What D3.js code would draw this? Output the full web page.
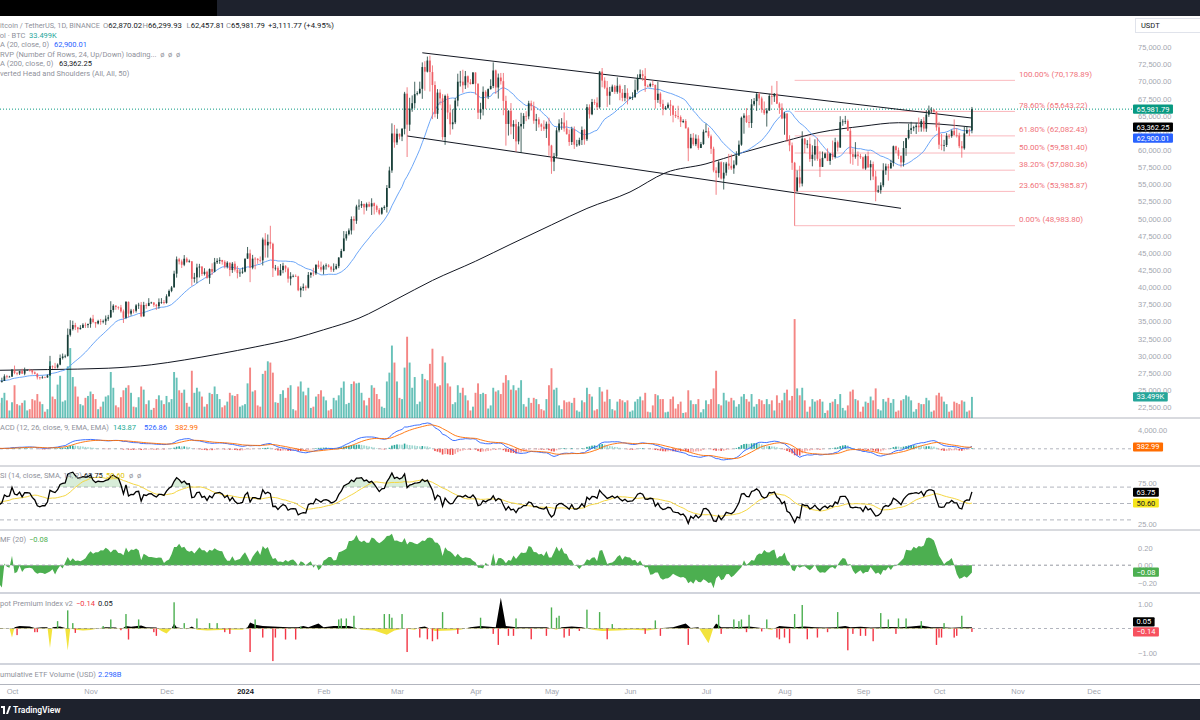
<!DOCTYPE html>
<html><head><meta charset="utf-8">
<script src="https://cdn.jsdelivr.net/npm/d3@7"></script>
<style>
html,body{margin:0;padding:0;background:#fff;}
svg{display:block;font-family:Roboto,"Liberation Sans",sans-serif;}
text{white-space:pre;}
</style></head><body>
<svg id="c" width="1200" height="720"></svg>
<script>
// ---------------- DATA (prices in thousands of USDT, volume in thousands of BTC) ----------------
const startDate = "2023-09-26";
const priorCloses = [26.24,25.91,25.90,25.84,25.16,25.85,26.22,26.53,26.60,26.57,26.53,26.76,27.21,27.13,26.57,26.58,26.58,26.25,26.30];
const closes = [
26.22,26.35,27.02,26.91,26.97,
27.99,27.50,27.43,27.78,27.41,27.93,27.95,27.92,27.59,27.39,26.87,26.76,26.86,26.85,27.15,28.50,28.40,28.32,28.72,29.68,29.91,29.99,33.07,33.90,34.50,34.15,33.89,34.09,34.53,34.49,34.64,
35.42,34.94,34.72,35.08,35.04,35.04,35.42,35.62,36.69,37.31,37.13,37.06,36.49,35.55,37.88,36.16,36.60,36.57,37.36,37.45,35.76,37.41,37.29,37.72,37.78,37.45,37.24,37.83,37.85,37.71,
38.69,39.47,39.98,41.99,44.08,43.77,43.29,44.17,43.71,43.79,41.24,41.45,42.89,43.02,41.94,42.26,41.37,42.66,42.27,43.65,43.86,43.99,43.72,43.01,43.58,42.52,43.44,42.58,42.07,42.14,42.28,
44.18,44.95,42.85,44.18,44.16,43.97,43.93,46.97,46.11,46.63,46.34,42.78,42.84,41.73,42.51,43.14,42.74,41.26,41.62,41.66,41.58,39.57,39.88,40.08,39.94,41.81,42.12,42.03,43.30,42.94,42.58,
43.08,43.19,42.99,42.58,42.70,43.09,44.34,45.29,47.13,47.75,48.29,49.96,49.70,51.79,51.91,52.16,51.66,52.12,51.78,52.26,51.85,51.30,50.73,51.57,51.73,54.48,57.04,62.43,61.13,
62.39,61.98,63.11,68.24,63.72,66.07,66.85,68.17,68.31,68.95,72.12,71.45,73.07,71.39,69.50,65.30,68.39,67.55,61.91,67.91,65.49,63.78,64.06,67.23,69.98,69.99,69.46,70.78,69.87,69.65,71.33,
69.70,65.46,65.98,68.51,67.84,68.90,69.36,71.62,69.14,70.59,70.06,67.19,63.82,65.74,63.43,63.81,61.28,63.47,63.82,64.99,64.93,66.84,66.41,64.29,64.50,63.76,63.42,63.11,63.84,60.67,
58.32,59.12,62.89,63.89,64.03,63.16,62.33,61.19,63.07,60.80,60.82,61.47,62.95,61.58,66.27,65.23,67.02,66.92,66.27,71.45,70.14,69.12,67.93,68.53,69.28,68.51,69.39,68.37,67.63,68.35,67.49,
67.71,67.75,68.80,70.55,71.08,70.79,69.36,69.31,69.65,69.51,67.32,68.24,66.75,66.01,66.19,66.64,66.49,65.15,64.96,64.83,64.10,64.25,63.18,60.28,61.81,60.87,61.68,60.32,60.89,62.68,
62.77,62.02,60.20,57.04,56.66,58.23,55.86,56.71,58.04,57.72,57.34,57.89,59.20,60.80,64.72,65.04,64.09,63.96,66.68,67.15,68.17,67.54,65.93,65.37,65.78,67.90,67.81,68.24,66.78,66.19,64.62,
65.35,61.50,60.70,58.16,54.02,56.03,55.13,61.69,60.84,60.92,58.71,59.35,60.60,58.74,57.56,58.87,59.49,58.43,59.48,59.01,61.16,60.38,64.09,64.18,64.25,62.83,59.42,59.03,59.37,59.12,58.97,
57.33,59.13,57.49,57.97,56.16,53.96,54.16,54.88,57.05,57.64,57.34,58.13,60.57,60.00,59.18,58.21,60.31,61.76,62.95,63.20,63.35,63.58,63.34,64.26,63.15,65.18,65.80,65.88,65.60,63.33,
60.80,60.65,60.75,62.08,62.06,62.82,62.22,62.13,60.58,60.27,62.45,62.93,62.87002,65.98179];
const highs = [
26.39,26.82,27.31,27.23,27.09,
28.07,28.58,27.67,27.83,28.12,28.29,28.02,28.10,27.99,27.73,27.48,26.94,27.10,26.97,27.29,30.00,28.61,28.98,28.90,30.20,30.34,30.20,33.99,35.20,35.13,34.82,34.24,34.48,34.76,34.85,34.72,
35.58,35.98,34.95,35.26,35.38,35.29,35.89,35.98,37.97,37.53,37.41,37.23,37.43,36.76,37.98,37.93,36.85,36.84,37.55,37.74,37.86,37.88,37.66,38.41,37.89,37.83,37.58,38.38,38.42,38.15,
38.98,39.68,40.19,42.42,44.49,44.29,44.05,44.70,44.37,44.04,43.80,42.10,43.44,43.42,43.09,42.78,42.43,42.75,43.50,44.28,44.24,44.37,43.80,43.95,43.80,43.62,43.68,43.79,43.12,42.61,42.90,
44.18,45.88,45.50,44.73,44.40,44.25,44.50,47.25,47.90,47.70,48.97,46.50,43.26,43.08,43.40,43.58,43.20,42.93,42.20,41.87,41.88,41.68,40.13,40.55,40.28,42.23,42.20,42.84,43.31,43.88,43.75,
43.29,43.48,43.38,43.12,43.49,43.42,44.39,45.61,48.20,48.17,48.59,50.33,50.37,52.04,52.82,52.57,52.20,52.36,52.48,52.98,52.37,52.05,51.55,51.70,51.95,54.91,57.59,63.91,63.68,
63.13,62.43,63.23,68.50,69.17,67.64,67.98,69.98,68.59,69.99,72.80,72.97,73.65,73.78,72.36,70.04,68.90,68.87,68.16,68.10,68.24,66.65,65.97,67.62,71.15,71.56,71.73,71.55,70.90,70.36,71.37,
71.33,69.70,66.91,69.29,68.73,69.00,70.33,72.80,71.75,71.17,71.26,71.26,67.93,65.84,66.87,64.37,64.48,64.12,65.45,65.39,65.67,67.20,67.23,67.07,65.29,64.80,63.92,64.36,64.17,64.73,
60.78,59.60,63.32,64.50,64.67,65.50,64.34,62.99,63.42,63.46,61.50,61.82,63.45,63.10,66.70,66.67,67.47,67.40,67.70,71.52,71.98,70.62,70.09,69.22,69.56,69.51,70.61,69.59,68.92,69.50,69.02,
67.86,68.44,70.29,71.06,71.76,71.65,71.96,69.56,69.85,70.15,69.56,70.00,68.45,67.35,66.45,66.95,67.30,66.10,65.73,66.48,65.07,64.50,64.52,63.37,62.37,62.48,62.29,62.18,61.20,63.01,
63.86,63.29,62.27,60.50,57.50,58.48,58.37,58.24,58.29,59.46,59.40,58.51,59.84,61.40,64.90,65.38,66.13,65.12,67.45,67.60,68.37,68.47,67.81,67.10,66.13,68.22,69.40,68.32,70.08,66.98,66.83,
65.59,65.00,62.18,61.11,58.29,57.04,57.72,62.75,61.75,61.47,61.86,60.70,61.58,61.80,59.85,59.80,59.65,60.26,59.60,61.40,61.80,61.40,64.95,64.50,65.00,64.48,63.20,60.25,61.17,59.82,59.46,
59.08,59.40,59.81,58.52,58.33,56.99,54.85,55.30,58.09,58.04,57.99,58.60,60.67,60.65,60.38,59.21,61.32,61.79,63.85,64.13,63.56,64.00,64.75,64.53,64.82,65.84,66.50,66.26,66.00,65.62,
64.13,62.39,61.50,62.49,62.37,63.00,64.48,63.20,62.54,61.32,63.42,63.48,63.12,66.29993];
const lows = [
26.11,26.09,26.34,26.67,26.88,
26.95,27.32,27.16,27.21,27.35,27.17,27.86,27.71,27.29,27.30,26.56,26.54,26.68,26.82,26.81,27.11,28.10,28.13,28.17,28.63,29.46,29.67,29.88,32.82,33.69,33.76,33.39,33.85,34.05,34.07,34.08,
34.10,34.76,34.10,34.58,34.53,34.74,34.51,35.11,35.53,36.33,36.72,36.74,36.30,34.80,35.36,35.61,35.87,36.20,36.32,36.84,35.63,35.73,36.88,37.25,37.61,37.15,36.71,36.86,37.59,37.50,
37.62,38.65,39.28,39.98,41.41,43.34,42.82,43.08,43.58,43.59,40.22,40.68,40.60,41.43,41.66,41.72,41.25,40.50,41.79,42.18,43.40,43.42,43.31,42.75,42.75,41.62,42.10,42.29,41.30,41.52,41.97,
42.18,44.15,40.75,42.63,42.62,43.42,43.61,43.18,44.33,44.33,45.61,41.50,42.44,41.72,41.72,42.05,42.20,40.68,40.28,41.45,41.50,39.43,38.56,39.49,39.53,39.83,41.39,41.62,41.80,42.68,42.28,
41.88,42.58,42.88,42.24,42.26,42.57,42.79,44.31,45.24,46.80,47.56,47.70,48.30,49.25,51.30,51.57,50.63,51.17,51.68,50.55,50.62,50.94,50.52,50.58,51.28,50.90,54.45,56.69,60.36,
60.77,61.56,61.32,62.30,59.00,62.80,65.60,66.09,67.98,68.17,67.49,68.67,71.33,68.55,64.53,64.78,64.56,66.56,61.50,60.78,64.53,62.26,63.04,63.80,66.39,69.28,68.38,68.92,69.11,69.56,69.60,
68.10,64.54,64.49,65.06,66.01,67.45,68.83,69.04,68.21,67.52,69.57,65.09,60.66,62.13,62.30,61.62,59.77,60.85,59.60,63.12,64.23,64.50,65.77,63.85,62.80,63.30,62.79,62.81,61.78,59.19,
56.55,56.94,58.85,62.60,62.97,62.70,62.28,60.63,60.75,60.18,60.49,60.63,60.75,60.80,61.33,64.61,65.10,66.60,65.86,66.06,69.17,68.90,66.30,66.62,68.48,68.20,68.23,67.28,67.13,67.12,66.67,
67.44,67.31,67.61,68.54,70.38,70.12,68.50,69.22,69.16,69.24,66.05,66.90,66.30,65.08,65.85,66.04,65.00,64.06,64.69,64.50,63.38,63.95,63.18,58.40,60.26,60.64,60.58,60.05,60.31,60.77,
62.50,61.75,59.45,56.77,53.49,56.01,55.72,54.26,56.29,57.16,57.11,56.55,57.77,59.20,60.63,62.40,63.96,63.28,63.23,66.43,65.73,66.55,65.46,65.13,63.44,65.74,66.64,67.03,66.72,65.30,64.52,
62.25,61.21,59.84,57.12,48.98,53.96,54.56,54.72,59.58,60.28,58.30,57.64,58.48,58.44,56.08,57.80,58.78,58.40,57.86,58.60,58.78,59.80,60.34,63.55,63.80,62.80,58.03,57.86,58.75,57.71,58.72,
57.20,57.13,57.42,55.61,55.66,52.55,53.75,53.65,54.60,56.40,55.55,57.32,57.63,59.56,58.70,57.49,57.61,59.17,61.56,62.35,62.76,62.36,62.67,62.70,62.70,62.67,64.85,65.43,65.43,62.83,
60.16,59.99,59.83,60.46,61.67,61.81,62.13,61.84,60.29,58.90,60.06,62.39,62.07,62.45781];
const volumes = [
24,32,40,28,12,
25,52,22,20,24,28,12,14,30,28,38,26,22,10,14,90,34,30,53,67,26,28,82,111,65,50,34,22,20,32,35,
42,38,30,14,18,26,34,36,73,48,20,17,33,44,48,52,40,18,17,33,50,45,22,28,13,16,30,36,28,22,
35,25,30,73,64,44,40,45,24,18,75,40,48,42,34,18,22,40,38,50,38,30,17,20,26,40,36,35,38,18,20,
22,55,80,42,44,20,18,70,75,90,88,72,25,24,38,44,32,48,52,14,12,50,58,42,36,48,16,18,34,38,44,
34,28,12,14,32,28,36,48,58,22,24,54,58,55,56,40,28,20,32,52,48,38,30,18,16,58,72,115,88,
58,32,30,80,129,88,48,65,22,26,70,62,60,86,110,55,50,52,98,88,55,50,22,25,52,40,48,36,28,12,18,
40,55,38,40,38,15,20,48,42,44,38,56,68,60,45,52,44,48,60,22,18,32,24,32,30,22,14,12,30,52,
79,45,48,20,14,28,25,26,24,32,12,10,28,25,48,38,34,12,14,49,42,26,45,30,14,12,26,30,28,25,28,
10,12,26,30,34,28,40,10,9,20,38,36,30,30,9,10,30,34,15,22,26,8,9,44,28,22,22,30,9,14,
28,22,30,47,75,22,20,40,28,26,32,28,18,22,34,38,30,26,38,18,22,30,28,22,30,22,28,12,36,24,28,
40,45,28,35,157,47,36,48,28,10,18,30,26,28,30,26,8,12,24,26,30,22,38,16,12,20,42,45,30,28,10,
18,26,24,34,28,47,14,12,30,26,32,24,30,10,12,28,30,36,34,28,10,14,24,22,22,32,28,10,12,36,
40,34,26,22,10,12,26,24,22,28,26,10,12,33.499];

// 200-day MA
const ma200Dates = ["2023-09-26","2023-10-15","2023-11-08","2023-11-25","2023-12-08","2023-12-22","2024-01-05","2024-01-20","2024-02-01","2024-02-15","2024-03-01","2024-03-15","2024-04-01","2024-04-15","2024-05-01","2024-05-15","2024-06-01","2024-06-15","2024-07-01","2024-07-15","2024-08-01","2024-08-15","2024-09-01","2024-09-15","2024-10-01","2024-10-14"];
const ma200Vals = [27.9,28.0,28.2,28.7,29.4,30.3,31.3,32.5,33.8,35.5,38.3,41.0,43.8,46.3,49.1,51.5,53.9,56.7,58.0,59.6,61.3,62.6,63.5,64.0,63.8,63.36225];

// Legend values shown by the chart
const ma20Last = 62900.01;
const macdLegend = [143.87, 526.86, 382.99];
const rsiLegend = [63.75, 50.60];
const cmfLast = -0.08;
const premLegend = [-0.14, 0.05];

// Channel trend lines
const upperLineDates = ["2024-03-11","2024-10-14"], upperLineVals = [74.2,64.68];
const lowerLineDates = ["2024-03-05","2024-09-16"], lowerLineVals = [62.07,51.52];

// Fibonacci retracement
const fibPct = ["100.00%","78.60%","61.80%","50.00%","38.20%","23.60%","0.00%"];
const fibPrices = [70178.89,65643.22,62082.43,59581.40,57080.36,53985.87,48983.80];
const fibStartDate = "2024-08-05", fibEndDate = "2024-10-31";

// Spot premium index (index into daily series, value)
const premAreaIdx = [0,4,5,6,8,12,14,17,19,20,21,24,26,27,28,30,33,36,40,42,46,48,50,52,56,58,62,64,66,68,69,70,74,76,78,82,90,96,98,99,101,104,110,114,118,120,122,126,128,132,138,140,143,148,153,156,160,164,166,168,172,178,182,186,190,196,198,200,204,210,216,220,222,226,230,234,238,244,250,256,262,266,271,273,276,280,282,283,285,290,296,300,305,308,310,314,318,322,326,330,334,336,340,344,348,352,356,360,364,368,372,376,380,384];
const premAreaVal = [0.02,0,-0.37,0.05,0.1,0.08,0.02,0.05,0.05,-0.8,0.05,0.08,0.02,-0.9,0,-0.05,-0.08,-0.06,0.02,0.05,0.04,-0.05,0.1,0.07,0.12,0.05,0.04,-0.1,-0.2,0,0.2,0.05,-0.03,0.08,-0.05,-0.08,-0.05,-0.05,0.05,0.25,0.15,0.1,0.07,0.05,0.05,0.1,0.05,0.2,0.05,0.1,0.1,0.05,-0.05,-0.08,-0.25,-0.08,0,-0.05,0.05,0.08,-0.1,-0.08,-0.05,0.05,0.1,0.05,1.26,0.1,0.05,0.05,0.05,-0.05,0.05,0.08,0.05,-0.05,-0.1,-0.08,-0.05,-0.08,0.02,0.05,0.2,0.02,0.05,-0.6,0.05,0.2,0.05,0.05,0.08,0.03,-0.05,0.1,0.08,0.05,0.08,0.05,0.04,0.05,0.1,0.05,0.07,0.04,0.05,0.06,0.05,0.08,0.12,0.05,0.05,0.03,0.05,0.05];
const premBarIdx = [7,14,15,23,27,29,30,41,44,48,50,51,55,61,62,69,73,78,83,86,89,91,99,101,104,108,109,113,117,119,134,135,137,140,152,154,155,159,161,166,169,171,173,175,181,190,195,197,201,203,204,210,216,218,220,221,223,225,229,232,237,240,242,255,259,261,272,284,285,290,292,293,295,296,301,303,307,308,310,312,314,317,319,323,327,331,335,337,340,342,345,348,351,354,355,358,364,370,371,372,373,377,378,380,384];
const premBarVal = [-0.27,-0.15,-0.15,0.3,0.74,0.22,-0.18,0.1,0.37,-0.07,0.59,-0.45,0.37,-0.15,-0.3,1.07,0.22,0.41,0.22,0.22,-0.15,-0.22,-0.96,0.37,-0.37,-1.33,-0.37,-0.45,-0.45,0.07,0.37,0.41,0.41,0.52,0.59,0.59,0.44,0.59,-0.96,-0.37,-0.44,-0.52,-0.44,0.67,-0.22,0.44,-0.22,-0.67,-0.3,-0.3,0.41,-0.44,-0.3,0.86,0.44,0.52,-0.37,-0.3,-0.1,0.77,0.67,-0.44,0.18,-0.22,0.33,-0.3,-0.67,0.56,-0.22,0.37,0.3,0.37,-0.15,0.56,-0.12,0.37,-0.37,-0.44,-0.37,-0.6,0.59,0.96,-0.44,-0.37,-0.15,0.67,-0.89,-0.22,-0.3,-0.3,-0.52,0.63,0.37,-0.22,0.41,0.41,0.3,-0.67,-0.37,-0.37,0.22,-0.37,-0.3,0.52,-0.14];

// Axis ticks
const priceTicks = [22.5,25,27.5,30,32.5,35,37.5,40,42.5,45,47.5,50,52.5,55,57.5,60,62.5,65,67.5,70,72.5,75];
const monthTicks = ["2023-10-01","2023-11-01","2023-12-01","2024-01-01","2024-02-01","2024-03-01","2024-04-01","2024-05-01","2024-06-01","2024-07-01","2024-08-01","2024-09-01","2024-10-01","2024-11-01","2024-12-01"];

// ---------------- CHART ----------------
const svg = d3.select("#c");
const parse = d3.utcParse("%Y-%m-%d");
const t0 = parse(startDate);
const dates = closes.map((_, i) => d3.utcDay.offset(t0, i));
const opens = closes.map((c, i) => i === 0 ? priorCloses[priorCloses.length - 1] : closes[i - 1]);
const N = closes.length;
const PR = 1133; // right edge of plot area

const x = d3.scaleUtc().domain([parse("2023-10-01"), parse("2024-10-01")]).range([12, 939]);
const yP = d3.scaleLinear().domain([22.5, 75]).range([407.3, 47.3]);
const yV = d3.scaleLinear().domain([0, 160]).range([418, 317.2]);
const yM = d3.scaleLinear().domain([0, 4000]).range([448.8, 430]);
const yR = d3.scaleLinear().domain([25, 75]).range([524, 483]);
const yC = d3.scaleLinear().domain([-0.2, 0.2]).range([582.7, 547.7]);
const yS = d3.scaleLinear().domain([-1, 1]).range([653, 604]);

const defs = svg.append("defs");
function clip(id, x0, y0, x1, y1) {
  defs.append("clipPath").attr("id", id).append("rect")
    .attr("x", x0).attr("y", y0).attr("width", x1 - x0).attr("height", y1 - y0);
}
clip("cMain", 0, 17, PR, 418);
clip("cMacd", 0, 419, PR, 466);
clip("cRsi", 0, 467, PR, 530);
clip("cCmf", 0, 531, PR, 592);
clip("cPremPos", 0, 594, PR, yS(0));
clip("cPremNeg", 0, yS(0), PR, 663);

svg.append("rect").attr("width", 1200).attr("height", 720).attr("fill", "#fff");

// header / footer bars
svg.append("rect").attr("x", 0).attr("y", 0).attr("width", 1200).attr("height", 16).attr("fill", "#1e222d");
svg.append("rect").attr("x", 0).attr("y", 0).attr("width", 217).attr("height", 16).attr("fill", "#000");
svg.append("rect").attr("x", 0).attr("y", 699).attr("width", 1200).attr("height", 21).attr("fill", "#1e222d");
svg.append("path").attr("d", "M1,706 h4 v8 h-2 v-6 h-2 z M6,714 l3,-8 h2 l-3,8 z").attr("fill", "#fff");
svg.append("text").attr("x", 13).attr("y", 710).attr("dominant-baseline", "central")
  .attr("font-size", 8.5).attr("font-weight", 600).attr("fill", "#fff").text("TradingView");

// pane separators
[[418,1,"#b2b5be"],[466,1,"#b2b5be"],[530,1,"#b2b5be"],[593,2,"#d1d4dc"],[664,2,"#d1d4dc"],[684.5,1,"#b2b5be"]]
  .forEach(([yy, w, c]) => svg.append("line").attr("x1", 0).attr("x2", 1200).attr("y1", yy).attr("y2", yy)
    .attr("stroke", c).attr("stroke-width", w));

// ---------- indicators computed from closes ----------
const all = priorCloses.concat(closes);
const off = priorCloses.length;
const ma20 = closes.map((_, i) => d3.mean(all.slice(i + off - 19, i + off + 1)));
function ema(arr, n) { const k = 2 / (n + 1); const out = []; let e = arr[0]; arr.forEach((v, i) => { e = i === 0 ? v : v * k + e * (1 - k); out.push(e); }); return out; }
const e12 = ema(all, 12), e26 = ema(all, 26);
const macdAll = all.map((_, i) => (e12[i] - e26[i]) * 1000);
const sigAll = ema(macdAll, 9);
const macd = closes.map((_, i) => macdAll[i + off]);
const signal = closes.map((_, i) => sigAll[i + off]);
const hist = macd.map((m, i) => m - signal[i]);
let ag = 0, al = 0; const rsiAll = [null];
for (let i = 1; i < all.length; i++) {
  const ch = all[i] - all[i - 1], g = Math.max(ch, 0), l = Math.max(-ch, 0);
  if (i <= 14) { ag += g / 14; al += l / 14; } else { ag = (ag * 13 + g) / 14; al = (al * 13 + l) / 14; }
  rsiAll.push(i >= 14 ? 100 - 100 / (1 + ag / al) : null);
}
const rsiMaAll = rsiAll.map((_, i) => { const w = rsiAll.slice(Math.max(0, i - 13), i + 1).filter(v => v != null); return w.length ? d3.mean(w) : null; });
const rsi = closes.map((_, i) => rsiAll[i + off]);
const rsiMa = closes.map((_, i) => rsiMaAll[i + off]);
const cmf = closes.map((_, i) => {
  let n = 0, d = 0;
  for (let j = Math.max(0, i - 19); j <= i; j++) {
    const h = highs[j], l = lows[j], c = closes[j], v = volumes[j];
    const m = h === l ? 0 : ((c - l) - (h - c)) / (h - l); n += m * v; d += v;
  }
  return n / d;
});

// ---------- MAIN PANE ----------
const main = svg.append("g").attr("clip-path", "url(#cMain)");
const UP = "#163d37", DN = "#ef5f66";
// volume
main.append("g").selectAll("rect").data(d3.range(N)).join("rect")
  .attr("x", i => x(dates[i]) - 0.95).attr("width", 1.9)
  .attr("y", i => yV(volumes[i])).attr("height", i => yV(0) - yV(volumes[i]))
  .attr("fill", i => closes[i] >= opens[i] ? "#26a69a" : "#ef5350").attr("opacity", 0.7);
// fib lines
const fx0 = x(parse(fibStartDate)), fx1 = x(parse(fibEndDate));
fibPrices.forEach((p, k) => {
  main.append("line").attr("x1", fx0).attr("x2", fx1).attr("y1", yP(p / 1000)).attr("y2", yP(p / 1000))
    .attr("stroke", "#f23645").attr("stroke-opacity", 0.35).attr("stroke-width", 1);
  main.append("text").attr("x", fx1 + 4).attr("y", yP(p / 1000) - 6).attr("dominant-baseline", "central")
    .attr("font-size", 8).attr("fill", "#f0727a").text(`${fibPct[k]} (${d3.format(",.2f")(p)})`);
});
// last price dotted line
main.append("line").attr("x1", 0).attr("x2", PR).attr("y1", yP(closes[N - 1])).attr("y2", yP(closes[N - 1]))
  .attr("stroke", "#089981").attr("stroke-width", 1).attr("stroke-dasharray", "1,2");
// MA200
main.append("path").datum(ma200Dates.map((d, k) => [x(parse(d)), yP(ma200Vals[k])]))
  .attr("d", d3.line().curve(d3.curveMonotoneX)).attr("fill", "none").attr("stroke", "#131722").attr("stroke-width", 1);
// MA20
main.append("path").datum(d3.range(N)).attr("d", d3.line().x(i => x(dates[i])).y(i => yP(ma20[i])))
  .attr("fill", "none").attr("stroke", "#5b9cf6").attr("stroke-width", 0.9);
// channel
[[upperLineDates, upperLineVals], [lowerLineDates, lowerLineVals]].forEach(([ds, vs]) => {
  main.append("line").attr("x1", x(parse(ds[0]))).attr("y1", yP(vs[0])).attr("x2", x(parse(ds[1]))).attr("y2", yP(vs[1]))
    .attr("stroke", "#131722").attr("stroke-width", 1);
});
// candles
const cg = main.append("g");
cg.selectAll("line").data(d3.range(N)).join("line")
  .attr("x1", i => x(dates[i])).attr("x2", i => x(dates[i]))
  .attr("y1", i => yP(Math.max(highs[i], opens[i], closes[i]))).attr("y2", i => yP(Math.min(lows[i], opens[i], closes[i])))
  .attr("stroke", i => closes[i] >= opens[i] ? UP : DN).attr("stroke-width", 0.8);
cg.selectAll("rect").data(d3.range(N)).join("rect")
  .attr("x", i => x(dates[i]) - 0.85).attr("width", 1.7)
  .attr("y", i => yP(Math.max(opens[i], closes[i])))
  .attr("height", i => Math.max(0.7, Math.abs(yP(opens[i]) - yP(closes[i]))))
  .attr("fill", i => closes[i] >= opens[i] ? UP : DN);

// ---------- MACD ----------
const mg = svg.append("g").attr("clip-path", "url(#cMacd)");
mg.append("line").attr("x1", 0).attr("x2", PR).attr("y1", yM(0)).attr("y2", yM(0)).attr("stroke", "#b2b5be").attr("stroke-dasharray", "3,3");
mg.selectAll("rect").data(d3.range(N)).join("rect")
  .attr("x", i => x(dates[i]) - 0.8).attr("width", 1.6)
  .attr("y", i => Math.min(yM(0), yM(hist[i]))).attr("height", i => Math.abs(yM(hist[i]) - yM(0)))
  .attr("fill", i => hist[i] >= 0 ? (i > 0 && hist[i] < hist[i - 1] ? "#9fd8d2" : "#26a69a") : (i > 0 && hist[i] > hist[i - 1] ? "#f7a9a8" : "#ef5350"));
mg.append("path").datum(d3.range(N)).attr("d", d3.line().x(i => x(dates[i])).y(i => yM(macd[i])))
  .attr("fill", "none").attr("stroke", "#2962ff").attr("stroke-width", 0.9);
mg.append("path").datum(d3.range(N)).attr("d", d3.line().x(i => x(dates[i])).y(i => yM(signal[i])))
  .attr("fill", "none").attr("stroke", "#ff6d00").attr("stroke-width", 0.9);

// ---------- RSI ----------
const rg = svg.append("g").attr("clip-path", "url(#cRsi)");
[70, 50, 30].forEach(v => rg.append("line").attr("x1", 0).attr("x2", PR).attr("y1", yR(v)).attr("y2", yR(v))
  .attr("stroke", "#b2b5be").attr("stroke-dasharray", "4,3"));
const ri = d3.range(N).filter(i => rsi[i] != null);
rg.append("path").datum(ri).attr("d", d3.area().x(i => x(dates[i])).y0(yR(70)).y1(i => yR(Math.max(70, rsi[i]))))
  .attr("fill", "#4caf50").attr("fill-opacity", 0.22);
rg.append("path").datum(ri).attr("d", d3.area().x(i => x(dates[i])).y0(yR(30)).y1(i => yR(Math.min(30, rsi[i]))))
  .attr("fill", "#f23645").attr("fill-opacity", 0.18);
rg.append("path").datum(ri).attr("d", d3.line().x(i => x(dates[i])).y(i => yR(rsiMa[i])))
  .attr("fill", "none").attr("stroke", "#f5d742").attr("stroke-width", 1);
rg.append("path").datum(ri).attr("d", d3.line().x(i => x(dates[i])).y(i => yR(rsi[i])))
  .attr("fill", "none").attr("stroke", "#000").attr("stroke-width", 1.3);

// ---------- CMF ----------
const fg = svg.append("g").attr("clip-path", "url(#cCmf)");
fg.append("path").datum(d3.range(N)).attr("d", d3.area().x(i => x(dates[i])).y0(yC(0)).y1(i => yC(cmf[i])))
  .attr("fill", "#4caf50");
fg.append("line").attr("x1", 0).attr("x2", PR).attr("y1", yC(0)).attr("y2", yC(0)).attr("stroke", "#9598a1").attr("stroke-dasharray", "3,3");

// ---------- SPOT PREMIUM ----------
const sg = svg.append("g");
sg.append("line").attr("x1", 0).attr("x2", PR).attr("y1", yS(0)).attr("y2", yS(0)).attr("stroke", "#b2b5be").attr("stroke-dasharray", "3,3");
const premArea = d3.area().x(k => x(dates[premAreaIdx[k]])).y0(yS(0)).y1(k => yS(premAreaVal[k]));
sg.append("path").datum(d3.range(premAreaIdx.length)).attr("d", premArea).attr("fill", "#000").attr("clip-path", "url(#cPremPos)");
sg.append("path").datum(d3.range(premAreaIdx.length)).attr("d", premArea).attr("fill", "#f2e33c").attr("clip-path", "url(#cPremNeg)");
sg.selectAll("rect.pb").data(d3.range(premBarIdx.length)).join("rect").attr("class", "pb")
  .attr("x", k => x(dates[premBarIdx[k]]) - 0.7).attr("width", 1.4)
  .attr("y", k => Math.min(yS(0), yS(premBarVal[k]))).attr("height", k => Math.abs(yS(premBarVal[k]) - yS(0)))
  .attr("fill", k => premBarVal[k] >= 0 ? "#4caf50" : "#f23645");

// ---------- AXES ----------
const axFont = 7.5, axCol = "#a3a6af";
const pa = svg.append("g").attr("transform", `translate(${PR + 1},0)`)
  .call(d3.axisRight(yP).tickValues(priceTicks).tickSize(0).tickPadding(4).tickFormat(v => d3.format(",.2f")(v * 1000)));
pa.select(".domain").remove();
pa.selectAll("text").attr("font-size", axFont).attr("fill", axCol).attr("font-family", null);
function sideTicks(scale, vals, fmt) {
  const g = svg.append("g").attr("transform", `translate(${PR + 1},0)`)
    .call(d3.axisRight(scale).tickValues(vals).tickSize(0).tickPadding(4).tickFormat(fmt));
  g.select(".domain").remove();
  g.selectAll("text").attr("font-size", axFont).attr("fill", axCol).attr("font-family", null);
}
const fmtSigned = v => d3.format(".2f")(v).replace("-", "\u2212");
sideTicks(yM, [4000], v => d3.format(",.2f")(v));
sideTicks(yR, [75, 25], v => d3.format(".2f")(v));
sideTicks(yC, [0.2, 0, -0.2], fmtSigned);
sideTicks(yS, [1, -1], fmtSigned);

const ta = svg.append("g").attr("transform", "translate(0,685)")
  .call(d3.axisBottom(x).tickValues(monthTicks.map(parse)).tickSize(0).tickPadding(4)
    .tickFormat(d => d.getUTCMonth() === 0 ? d3.utcFormat("%Y")(d) : d3.utcFormat("%b")(d)));
ta.select(".domain").remove();
ta.selectAll("text").attr("font-size", axFont).attr("font-family", null)
  .attr("fill", d => d.getUTCMonth() === 0 ? "#131722" : axCol)
  .attr("font-weight", d => d.getUTCMonth() === 0 ? 700 : null);

// USDT box
svg.append("rect").attr("x", 1135.5).attr("y", 18.5).attr("width", 70).attr("height", 14).attr("fill", "#fff").attr("stroke", "#e0e3eb");
svg.append("text").attr("x", 1141).attr("y", 25.5).attr("dominant-baseline", "central").attr("font-size", 7.5).attr("fill", "#131722").text("USDT");

// value labels on the right axis
function tag(yy, txt, bg, fg) {
  const t = svg.append("text").attr("x", PR + 3.5).attr("y", yy).attr("dominant-baseline", "central")
    .attr("font-size", axFont).attr("fill", fg).text(txt);
  const w = t.node().getComputedTextLength();
  svg.insert("rect", () => t.node()).attr("x", PR).attr("y", yy - 4.6).attr("width", w + 7).attr("height", 9.2).attr("rx", 1).attr("fill", bg);
}
const f2 = d3.format(",.2f");
const lastPriceY = yP(closes[N - 1]), ma200Y = yP(ma200Vals[ma200Vals.length - 1]);
let ma20Y = yP(ma20Last / 1000); if (ma20Y < ma200Y + 11) ma20Y = ma200Y + 11;
tag(lastPriceY, f2(closes[N - 1] * 1000), "#089981", "#fff");
tag(ma200Y, f2(ma200Vals[ma200Vals.length - 1] * 1000), "#000", "#fff");
tag(ma20Y, f2(ma20Last), "#2962ff", "#fff");
tag(yV(volumes[N - 1]), d3.format(".3f")(volumes[N - 1]) + "K", "#26a69a", "#fff");
tag(yM(macdLegend[2]), f2(macdLegend[2]), "#ff6d00", "#fff");
tag(yR(rsiLegend[0]), f2(rsiLegend[0]), "#000", "#fff");
tag(yR(rsiLegend[1]), f2(rsiLegend[1]), "#f5e51b", "#131722");
tag(yC(cmfLast), fmtSigned(cmfLast), "#4caf50", "#fff");
let spY = yS(premLegend[1]), sbY = yS(premLegend[0]); if (spY > sbY - 10) spY = sbY - 10;
tag(spY, fmtSigned(premLegend[1]), "#000", "#fff");
tag(sbY, fmtSigned(premLegend[0]), "#f7525f", "#fff");

// ---------- LEGENDS (left edge cut off as in the screenshot) ----------
const GREY = "#8f929b", DARK = "#131722";
function legend(yy, hidden, parts, size, titleSize) {
  size = size || 7.5; titleSize = titleSize || size;
  const t = svg.append("text").attr("y", yy).attr("dominant-baseline", "central").attr("font-size", size);
  t.append("tspan").attr("fill", GREY).attr("font-size", titleSize).text(hidden);
  parts.forEach((p, k) => {
    const s = t.append("tspan").attr("fill", p[1]).text(p[0]);
    if (k === 0) s.attr("font-size", titleSize);
    if (p[2] != null) s.attr("x", p[2]);
  });
  const tmp = svg.append("text").attr("font-size", titleSize).text(hidden);
  const w = tmp.node().getComputedTextLength(); tmp.remove();
  t.attr("x", -w);
}
legend(25, "B", [["itcoin / TetherUS, 1D, BINANCE", GREY], ["O", GREY, 103], ["62,870.02", DARK], ["H", GREY, 142.5], ["66,299.93", DARK], ["L", GREY, 186.5], ["62,457.81", DARK], ["C", GREY, 226], ["65,981.79", DARK], ["+3,111.77 (+4.95%)", DARK, 268]], 7.7, 7.3);
legend(34.5, "V", [["ol \u00b7 BTC  ", GREY], ["33.499K", "#26a69a", 29]]);
legend(44, "M", [["A (20, close, 0)  ", GREY], [f2(ma20Last), "#2962ff", 54]]);
legend(53.5, "V", [["RVP (Number Of Rows, 24, Up/Down) loading...  \u00f8  \u00f8  \u00f8", GREY]]);
legend(63, "M", [["A (200, close, 0)  ", GREY], ["63,362.25", DARK, 59]]);
legend(72.5, "In", [["verted Head and Shoulders (All, All, 50)", GREY]]);
legend(427.3, "M", [["ACD (12, 26, close, 9, EMA, EMA)", GREY], [f2(macdLegend[0]), "#22ab94", 113], [f2(macdLegend[1]), "#2962ff", 144], [f2(macdLegend[2]), "#ff6d00", 175]]);
legend(475, "R", [["SI (14, close, SMA, 14, 2)", GREY], [f2(rsiLegend[0]), DARK, 84], [f2(rsiLegend[1]), "#e2c400", 106], ["\u00f8  \u00f8", GREY, 129]]);
legend(539.3, "C", [["MF (20)  ", GREY], [fmtSigned(cmfLast), "#4caf50", 29]]);
legend(602.5, "S", [["pot Premium Index v2", GREY], [fmtSigned(premLegend[0]), "#f23645", 76], [fmtSigned(premLegend[1]), DARK, 98]]);
legend(674, "C", [["umulative ETF Volume (USD)", GREY], ["2.298B", "#2962ff", 98]]);
</script>
</body></html>
